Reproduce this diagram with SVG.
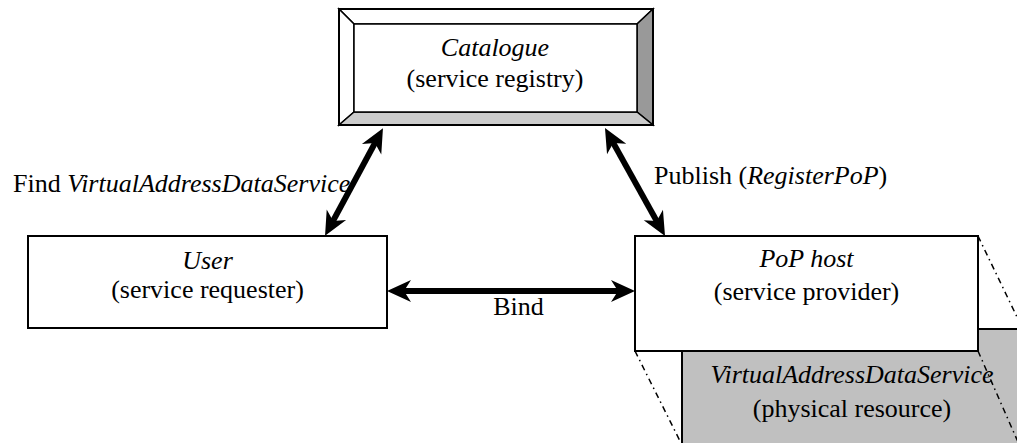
<svg xmlns="http://www.w3.org/2000/svg" width="1017" height="443" viewBox="0 0 1017 443">
<style>
text { font-family: "Liberation Serif", "Times New Roman", serif; font-size: 26px; fill: #000; }
.it { font-style: italic; }
.mid { text-anchor: middle; }
.box { fill: #fff; stroke: #000; stroke-width: 2; }
.bev { stroke: #000; stroke-width: 1.5; stroke-linejoin: miter; }
.conn { stroke: #000; stroke-width: 6; fill: none; marker-start: url(#head); marker-end: url(#head); }
.dd { stroke: #000; stroke-width: 1.5; fill: none; stroke-dasharray: 6 4 1.5 4; }
</style>
<defs>
<marker id="head" markerUnits="userSpaceOnUse" viewBox="0 -12 25 24" refX="11" refY="0" markerWidth="25" markerHeight="24" orient="auto-start-reverse" overflow="visible">
<path d="M0,-11 L24,0 L0,11 L7,0 Z" fill="#000"/>
</marker>
</defs>

<g id="resource">
<rect x="682" y="329" width="345" height="125" fill="#c0c0c0" stroke="#000" stroke-width="2"/>
<text class="it mid" x="852" y="383">VirtualAddressDataService</text>
<text class="mid" x="852" y="417">(physical resource)</text>
</g>

<g id="pophost">
<rect class="box" x="635" y="236" width="343" height="115"/>
<text class="it mid" x="806.5" y="267">PoP host</text>
<text class="mid" x="806.5" y="300">(service provider)</text>
</g>

<g id="projection">
<line class="dd" x1="978" y1="236" x2="1018" y2="319"/>
<line class="dd" x1="978" y1="351" x2="1018" y2="442"/>
<line class="dd" x1="635" y1="351" x2="681" y2="443"/>
</g>

<g id="catalogue">
<rect x="339" y="9" width="314" height="116" fill="#fff" stroke="#000" stroke-width="2"/>
<polygon class="bev" points="339,9 653,9 637,24 354,24" fill="#fff"/>
<polygon class="bev" points="339,9 354,24 354,112 339,125" fill="#fff"/>
<polygon class="bev" points="653,9 653,125 637,112 637,24" fill="#999"/>
<polygon class="bev" points="339,125 653,125 637,112 354,112" fill="#ccc"/>
<rect x="354" y="24" width="283" height="88" fill="#fff" stroke="#000" stroke-width="1.5"/>
<rect x="339" y="9" width="314" height="116" fill="none" stroke="#000" stroke-width="2"/>
<text class="it mid" x="495" y="56">Catalogue</text>
<text class="mid" x="495" y="87">(service registry)</text>
</g>

<g id="user">
<rect class="box" x="28" y="236" width="359" height="92"/>
<text class="it mid" x="207.5" y="269">User</text>
<text class="mid" x="207.5" y="298">(service requester)</text>
</g>

<g id="connectors">
<line class="conn" x1="376.8" y1="139.6" x2="331.2" y2="224.4"/>
<line class="conn" x1="611.3" y1="139.4" x2="658.7" y2="224.6"/>
<line class="conn" x1="400" y1="291" x2="622" y2="291"/>
</g>

<g id="labels">
<text x="13" y="192">Find <tspan class="it">VirtualAddressDataService</tspan></text>
<text x="654" y="184">Publish (<tspan class="it">RegisterPoP</tspan>)</text>
<text class="mid" x="518.5" y="315">Bind</text>
</g>
</svg>
